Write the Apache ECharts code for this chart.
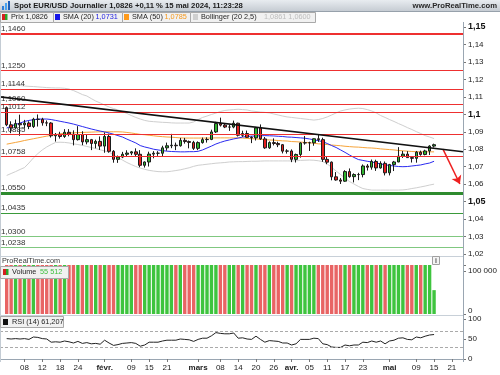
<!DOCTYPE html>
<html><head><meta charset="utf-8">
<script src="https://cdn.jsdelivr.net/npm/echarts@6/dist/echarts.min.js"></script>
<style>html,body{margin:0;padding:0;background:#fff}#c{width:500px;height:375px}</style>
</head><body><div id="c"></div>
<script>
// ---- categories: trading days Jan 1 .. May 23, 2024 ----
const dates = [
'01-01','01-02','01-03','01-04','01-05','01-08','01-09','01-10','01-11','01-12','01-15','01-16','01-17','01-18','01-19','01-22','01-23','01-24','01-25','01-26','01-29','01-30','01-31',
'02-01','02-02','02-05','02-06','02-07','02-08','02-09','02-12','02-13','02-14','02-15','02-16','02-19','02-20','02-21','02-22','02-23','02-26','02-27','02-28','02-29',
'03-01','03-04','03-05','03-06','03-07','03-08','03-11','03-12','03-13','03-14','03-15','03-18','03-19','03-20','03-21','03-22','03-25','03-26','03-27','03-28','03-29',
'04-01','04-02','04-03','04-04','04-05','04-08','04-09','04-10','04-11','04-12','04-15','04-16','04-17','04-18','04-19','04-22','04-23','04-24','04-25','04-26','04-29','04-30',
'05-01','05-02','05-03','05-06','05-07','05-08','05-09','05-10','05-13','05-14','05-15','05-16','05-17','05-20','05-21','05-22','05-23'];
const firstBar = 1; // Jan 2

// ---- daily candles [open, close, low, high], Jan 2 .. May 15 ----
const candles = [
[1.1038,1.0940,1.0932,1.1045],[1.0940,1.0922,1.0892,1.0960],[1.0922,1.0947,1.0916,1.0970],[1.0947,1.0940,1.0877,1.0998],
[1.0940,1.0950,1.0918,1.0968],[1.0950,1.0930,1.0915,1.0960],[1.0930,1.0972,1.0922,1.0980],[1.0972,1.0971,1.0930,1.0999],[1.0971,1.0951,1.0935,1.0980],
[1.0951,1.0950,1.0932,1.0965],[1.0950,1.0877,1.0867,1.0955],[1.0877,1.0885,1.0844,1.0893],[1.0885,1.0873,1.0861,1.0900],[1.0873,1.0897,1.0865,1.0915],
[1.0897,1.0886,1.0874,1.0915],[1.0886,1.0855,1.0822,1.0908],[1.0855,1.0884,1.0850,1.0932],[1.0884,1.0842,1.0823,1.0903],[1.0842,1.0855,1.0828,1.0886],
[1.0855,1.0833,1.0795,1.0859],[1.0833,1.0845,1.0805,1.0855],[1.0845,1.0818,1.0796,1.0873],[1.0818,1.0873,1.0780,1.0896],[1.0873,1.0788,1.0780,1.0889],
[1.0788,1.0742,1.0723,1.0795],[1.0742,1.0755,1.0722,1.0764],[1.0755,1.0771,1.0749,1.0785],[1.0771,1.0778,1.0760,1.0794],[1.0778,1.0785,1.0766,1.0790],
[1.0785,1.0771,1.0760,1.0805],[1.0771,1.0708,1.0697,1.0795],[1.0708,1.0727,1.0695,1.0730],[1.0727,1.0772,1.0701,1.0786],[1.0772,1.0777,1.0748,1.0789],
[1.0777,1.0777,1.0762,1.0789],[1.0777,1.0808,1.0761,1.0820],[1.0808,1.0820,1.0792,1.0838],[1.0820,1.0823,1.0806,1.0888],[1.0823,1.0820,1.0795,1.0838],
[1.0820,1.0851,1.0815,1.0865],[1.0851,1.0844,1.0832,1.0865],[1.0844,1.0839,1.0805,1.0850],[1.0839,1.0805,1.0796,1.0848],[1.0805,1.0838,1.0795,1.0845],
[1.0838,1.0855,1.0832,1.0867],[1.0855,1.0856,1.0838,1.0868],[1.0856,1.0899,1.0852,1.0912],[1.0899,1.0947,1.0893,1.0957],[1.0947,1.0938,1.0930,1.0981],
[1.0938,1.0927,1.0921,1.0945],[1.0927,1.0927,1.0905,1.0940],[1.0927,1.0949,1.0920,1.0964],[1.0949,1.0880,1.0873,1.0952],[1.0880,1.0890,1.0871,1.0906],
[1.0890,1.0868,1.0865,1.0907],[1.0868,1.0865,1.0835,1.0874],[1.0865,1.0922,1.0850,1.0928],[1.0922,1.0859,1.0853,1.0942],[1.0859,1.0808,1.0802,1.0870],
[1.0808,1.0838,1.0802,1.0845],[1.0838,1.0833,1.0822,1.0862],[1.0833,1.0826,1.0812,1.0843],[1.0826,1.0789,1.0776,1.0830],[1.0789,1.0790,1.0775,1.0800],
[1.0790,1.0742,1.0726,1.0799],[1.0742,1.0770,1.0724,1.0775],[1.0770,1.0836,1.0752,1.0840],[1.0836,1.0837,1.0826,1.0876],[1.0837,1.0837,1.0790,1.0843],
[1.0837,1.0860,1.0820,1.0862],[1.0860,1.0855,1.0842,1.0885],[1.0855,1.0742,1.0728,1.0866],[1.0742,1.0726,1.0714,1.0757],[1.0726,1.0642,1.0622,1.0730],
[1.0642,1.0624,1.0620,1.0669],[1.0624,1.0617,1.0601,1.0635],[1.0617,1.0672,1.0613,1.0680],[1.0672,1.0643,1.0637,1.0690],[1.0643,1.0655,1.0610,1.0662],
[1.0655,1.0655,1.0623,1.0665],[1.0655,1.0704,1.0639,1.0713],[1.0704,1.0697,1.0678,1.0715],[1.0697,1.0730,1.0683,1.0741],[1.0730,1.0693,1.0676,1.0740],
[1.0693,1.0719,1.0689,1.0731],[1.0719,1.0665,1.0650,1.0730],[1.0665,1.0712,1.0650,1.0716],[1.0712,1.0727,1.0675,1.0733],[1.0727,1.0760,1.0726,1.0812],
[1.0760,1.0772,1.0750,1.0790],[1.0772,1.0752,1.0750,1.0789],[1.0752,1.0748,1.0724,1.0760],[1.0748,1.0783,1.0723,1.0790],[1.0783,1.0770,1.0763,1.0792],
[1.0770,1.0790,1.0765,1.0797],[1.0790,1.0818,1.0767,1.0823],[1.0818,1.0826,1.0810,1.0832]];

const sma20 = [
1.0921,1.0933,1.0942,1.0950,1.0959,1.0965,1.0969,1.0972,1.0973,1.0973,
1.0970,1.0965,1.0960,1.0955,1.0950,1.0944,1.0937,1.0930,1.0923,1.0916,
1.0910,1.0904,1.0899,1.0893,1.0886,1.0878,1.0870,1.0858,1.0847,1.0836,
1.0821,1.0813,1.0807,1.0800,1.0796,1.0792,1.0789,1.0787,1.0786,1.0785,
1.0785,1.0786,1.0786,1.0788,1.0796,1.0807,1.0818,1.0830,1.0839,1.0847,
1.0853,1.0859,1.0864,1.0870,1.0873,1.0875,1.0876,1.0877,1.0878,1.0877,
1.0876,1.0874,1.0873,1.0870,1.0869,1.0867,1.0865,1.0863,1.0859,1.0854,
1.0849,1.0843,1.0833,1.0821,1.0810,1.0796,1.0782,1.0767,1.0753,1.0741,
1.0736,1.0731,1.0727,1.0721,1.0716,1.0711,1.0707,1.0704,1.0701,1.0700,
1.0701,1.0704,1.0707,1.0710,1.0716,1.0721,1.0731];

const sma50 = [
1.0829,1.0834,1.0839,1.0844,1.0850,1.0855,1.0860,1.0865,1.0870,1.0875,
1.0879,1.0884,1.0888,1.0891,1.0893,1.0894,1.0895,1.0896,1.0897,1.0898,
1.0899,1.0900,1.0900,1.0900,1.0900,1.0900,1.0899,1.0896,1.0893,1.0889,
1.0885,1.0883,1.0880,1.0877,1.0874,1.0872,1.0870,1.0869,1.0867,1.0865,
1.0864,1.0864,1.0864,1.0864,1.0864,1.0864,1.0864,1.0865,1.0865,1.0865,
1.0865,1.0865,1.0865,1.0864,1.0862,1.0860,1.0859,1.0857,1.0855,1.0853,
1.0852,1.0850,1.0848,1.0847,1.0844,1.0843,1.0841,1.0839,1.0837,1.0834,
1.0831,1.0829,1.0827,1.0824,1.0822,1.0820,1.0817,1.0815,1.0813,1.0812,
1.0810,1.0808,1.0807,1.0805,1.0802,1.0800,1.0798,1.0796,1.0793,1.0791,
1.0789,1.0787,1.0786,1.0785,1.0785,1.0785,1.0785];

const bbUpper = [
1.1174,1.1171,1.1168,1.1165,1.1162,1.1160,1.1159,1.1157,1.1155,1.1153,
1.1152,1.1151,1.1151,1.1149,1.1145,1.1136,1.1125,1.1113,1.1105,1.1090,
1.1076,1.1065,1.1053,1.1042,1.1033,1.1025,1.1016,1.1005,1.0993,1.0982,
1.0973,1.0965,1.0960,1.0958,1.0956,1.0954,1.0953,1.0951,1.0950,1.0950,
1.0950,1.0950,1.0956,1.0970,1.0982,1.0990,1.0999,1.1007,1.1016,1.1022,
1.1025,1.1027,1.1029,1.1027,1.1025,1.1019,1.1016,1.1013,1.1011,1.1008,
1.1002,1.0996,1.0990,1.0985,1.0982,1.0979,1.0976,1.0973,1.0970,1.0967,
1.0970,1.0976,1.0985,1.0996,1.1008,1.1019,1.1025,1.1030,1.1033,1.1035,
1.1033,1.1027,1.1019,1.1008,1.0993,1.0982,1.0970,1.0959,1.0947,1.0936,
1.0924,1.0913,1.0901,1.0890,1.0878,1.0870,1.0861];

const bbLower = [
1.0650,1.0661,1.0672,1.0684,1.0695,1.0721,1.0750,1.0775,1.0796,1.0813,
1.0827,1.0839,1.0840,1.0839,1.0836,1.0831,1.0827,1.0822,1.0816,1.0810,
1.0804,1.0797,1.0790,1.0784,1.0767,1.0753,1.0738,1.0724,1.0712,1.0701,
1.0692,1.0685,1.0679,1.0675,1.0672,1.0671,1.0671,1.0674,1.0678,1.0682,
1.0688,1.0694,1.0702,1.0708,1.0711,1.0714,1.0717,1.0720,1.0722,1.0724,
1.0727,1.0728,1.0729,1.0729,1.0730,1.0731,1.0731,1.0732,1.0733,1.0733,
1.0733,1.0733,1.0733,1.0733,1.0733,1.0734,1.0736,1.0737,1.0738,1.0737,
1.0734,1.0729,1.0716,1.0696,1.0675,1.0655,1.0635,1.0615,1.0601,1.0587,
1.0575,1.0570,1.0566,1.0566,1.0566,1.0566,1.0566,1.0566,1.0566,1.0567,
1.0570,1.0575,1.0579,1.0584,1.0589,1.0595,1.0600];

const volume = [
128000,131000,126000,134000,129000,127000,133000,130000,128000,125000,
136000,132000,129000,131000,127000,134000,130000,128000,133000,126000,
129000,131000,135000,138000,132000,128000,127000,130000,126000,129000,
133000,131000,132000,127000,120000,128000,130000,134000,129000,127000,
126000,128000,131000,129000,127000,128000,132000,135000,131000,128000,
127000,130000,129000,134000,128000,127000,129000,133000,131000,130000,
127000,126000,129000,131000,125000,130000,132000,131000,133000,128000,
130000,137000,132000,136000,131000,129000,130000,128000,127000,124000,
128000,131000,129000,130000,127000,129000,131000,128000,132000,129000,
128000,127000,130000,126000,128000,131000,55512];

const rsi = [
51,50,51,50,51,49,55,54,51,50,
42,43,42,45,43,40,44,39,41,38,
39,37,47,40,34,36,39,40,41,39,
32,35,42,42,42,45,47,47,47,50,
49,48,44,49,52,52,58,66,64,63,
63,65,52,53,50,49,57,49,42,46,
45,44,40,40,35,38,49,49,49,52,
51,38,36,30,29,29,35,33,35,35,
42,41,45,42,45,38,45,47,52,53,
49,48,55,53,57,60,61.2];

const resistLevels = [1.1460,1.1250,1.1144,1.1060,1.1012,1.0885,1.0758];
const supportLevels = [1.0550,1.0435,1.0300,1.0238];
const trendLine = [[-0.5,1.1100],[103.5,1.0786]];
const arrowLine = [[99.0,1.0801],[102.8,1.0601]];
const lastPrice = 1.0826;
const rsiLevels = [70,30];
const xTickIdx = [5,9,13,17,23,29,33,37,44,49,53,57,61,65,69,73,77,81,87,93,97,101];
const xTickText = ['08','12','18','24','févr.','09','15','21','mars','08','14','20','26','avr.','05','11','17','23','mai','09','15','21'];
const monthTicks = ['févr.','mars','avr.','mai'];

// ---- chart ----
const F = '"Liberation Sans", Arial, sans-serif';
const chart = echarts.init(document.getElementById('c'));
const fmt = v => String(+v.toFixed(4)).replace('.', ',');
const idx = (arr) => arr.map((v, i) => [i + firstBar, v]);
const GL = -3, GR = 37;
const tickSet = new Set(xTickIdx);

function levelLine(v, color, width) {
  return {yAxis: v, lineStyle: {color: color, width: width, type: 'solid'},
    label: {show: true, position: 'insideStartTop', formatter: fmt(v).padEnd(6, '0'),
      color: '#333', fontSize: 8, fontFamily: F, distance: [1, 1]}};
}
const levelData = resistLevels.map((v, i) => levelLine(v, '#ee3030', i === 0 ? 2 : 1))
  .concat(supportLevels.map((v, i) => levelLine(v, i === 0 ? '#2e8b2e' : (i === 1 ? '#3a9a3a' : '#80c880'), i === 0 ? 3 : 1)));

const G = [];
// header
G.push({type:'rect', shape:{x:0,y:0,width:500,height:11}, style:{fill:new echarts.graphic.LinearGradient(0,0,0,1,[{offset:0,color:'#e8ecf0'},{offset:1,color:'#c6ccd3'}])}, z:100});
G.push({type:'line', shape:{x1:0,y1:11.5,x2:500,y2:11.5}, style:{stroke:'#97a1ab',lineWidth:1}, z:101});
G.push({type:'rect', shape:{x:0,y:12,width:500,height:10}, style:{fill:'#ffffff'}, z:100});
// icon
G.push({type:'rect', shape:{x:2,y:6,width:2,height:4}, style:{fill:'#2f7fd8'}, z:102});
G.push({type:'rect', shape:{x:5,y:3,width:2,height:7}, style:{fill:'#49a3f0'}, z:102});
G.push({type:'rect', shape:{x:8,y:1,width:2,height:9}, style:{fill:'#1c5fb8'}, z:102});
G.push({type:'text', x:14, y:5.8, style:{text:'Spot EUR/USD Journalier 1,0826 +0,11 % 15 mai 2024, 11:23:28', fill:'#1a1a1a', font:'bold 7.7px '+F, textVerticalAlign:'middle'}, z:102});
G.push({type:'text', x:497, y:5.8, style:{text:'www.ProRealTime.com', fill:'#2a2a2a', font:'bold 7.7px '+F, textAlign:'right', textVerticalAlign:'middle'}, z:102});
// legend boxes
const LF = '7.3px ' + F;
function box(x, y, w, h) { G.push({type:'rect', shape:{x:x+0.5,y:y+0.5,width:w,height:h}, style:{fill:'#f1f1f1',stroke:'#a9a9a9',lineWidth:1}, z:102}); }
function txt(x, y, s, col) { G.push({type:'text', x:x, y:y, style:{text:s, fill:col, font:LF, textVerticalAlign:'middle'}, z:103}); }
function sq(x, y, col) { G.push({type:'rect', shape:{x:x,y:y,width:5,height:6}, style:{fill:col}, z:103}); }
box(0,12,53,10); box(53,12,69,10); box(122,12,68,10); box(190,12,125,10);
sq(2,14,'#d42020'); G.push({type:'rect', shape:{x:5,y:14,width:2.5,height:6}, style:{fill:'#2aa52a'}, z:104});
txt(11,17.3,'Prix 1,0826','#1e1e1e');
sq(55,14,'#1515e8'); txt(63,17.3,'SMA (20)','#1e1e1e'); txt(95.5,17.3,'1,0731','#2424e0');
sq(124,14,'#ff9a1a'); txt(132,17.3,'SMA (50)','#1e1e1e'); txt(164.5,17.3,'1,0785','#f59a20');
sq(193,14,'#cfcfcf'); txt(201,17.3,'Bollinger (20 2,5)','#1e1e1e'); txt(264,17.3,'1,0861 1,0600','#bdbdbd');
// frame lines
G.push({type:'line', shape:{x1:463.5,y1:22,x2:463.5,y2:362}, style:{stroke:'#9aa6b2',lineWidth:1}, z:90});
G.push({type:'line', shape:{x1:0.5,y1:22,x2:0.5,y2:362}, style:{stroke:'#c4ccd4',lineWidth:1}, z:90});
G.push({type:'line', shape:{x1:0,y1:256.5,x2:463,y2:256.5}, style:{stroke:'#c8d0d8',lineWidth:1}, z:90});
G.push({type:'line', shape:{x1:0,y1:315.5,x2:463,y2:315.5}, style:{stroke:'#c8d0d8',lineWidth:1}, z:90});
G.push({type:'rect', shape:{x:1,y:257,width:462,height:8}, style:{fill:'#ffffff'}, z:95});
txt(2,261,'ProRealTime.com','#3a3a3a');
G.push({type:'rect', shape:{x:432.5,y:256.5,width:7,height:8}, style:{fill:'#f4f4f4',stroke:'#a0a0a0',lineWidth:1}, z:102});
G.push({type:'text', x:436, y:260.7, style:{text:'i', fill:'#555', font:'bold 7px '+F, textAlign:'center', textVerticalAlign:'middle'}, z:103});
// volume legend
box(0,266,68,12);
sq(3,269,'#d42020'); G.push({type:'rect', shape:{x:6,y:269,width:2.5,height:6}, style:{fill:'#2aa52a'}, z:104});
txt(12,272.3,'Volume','#1e1e1e'); txt(40,272.3,'55 512','#3fbf3f');
// rsi legend
box(0,316,63,11);
sq(3,319,'#111111'); txt(12,321.8,'RSI (14) 61,207','#1e1e1e');

const option = {
  animation: false,
  backgroundColor: '#ffffff',
  textStyle: {fontFamily: F},
  grid: [
    {left: GL, right: GR, top: 9.54, height: 244.46},
    {left: GL, right: GR, top: 265, height: 49},
    {left: GL, right: GR, top: 319, height: 40}
  ],
  xAxis: [
    {type:'category', gridIndex:0, data:dates, boundaryGap:true, axisLine:{show:false}, axisTick:{show:false}, axisLabel:{show:false}},
    {type:'category', gridIndex:1, data:dates, boundaryGap:true, axisLine:{show:false}, axisTick:{show:false}, axisLabel:{show:false}},
    {type:'category', gridIndex:2, data:dates, boundaryGap:true, offset:3,
      axisLine:{show:true, lineStyle:{color:'#9aa6b2', width:1}},
      axisTick:{show:true, alignWithLabel:true, length:3, interval:(i)=>tickSet.has(i), lineStyle:{color:'#777'}},
      axisLabel:{show:true, interval:(i)=>tickSet.has(i), margin:2, fontSize:8, color:'#222', fontFamily:F,
        formatter:(v, i)=>{const k = xTickIdx.indexOf(i); if (k < 0) return ''; const t = xTickText[k]; return monthTicks.includes(t) ? '{b|'+t+'}' : t;},
        rich:{b:{fontWeight:'bold', fontSize:8, color:'#222', fontFamily:F}}}},
    {type:'value', gridIndex:0, min:-0.5, max:103.5, show:false, axisLine:{onZero:false}}
  ],
  yAxis: [
    {type:'value', gridIndex:0, position:'right', min:1.02, max:1.16, interval:0.01, scale:true,
      axisLine:{show:false, onZero:false}, splitLine:{show:false},
      axisTick:{show:true, length:3, lineStyle:{color:'#777'}},
      axisLabel:{margin:5, fontSize:8, color:'#222', fontFamily:F,
        formatter:(v)=>{ if (v > 1.155) return ''; const s = fmt(+v.toFixed(2)); return (Math.round(v*100) % 5 === 0) ? '{b|'+s+'}' : s; },
        rich:{b:{fontWeight:'bold', fontSize:9, color:'#111', fontFamily:F}}}},
    {type:'value', gridIndex:1, position:'right', min:0, max:114000, interval:100000,
      axisLine:{show:false, onZero:false}, splitLine:{show:false}, axisTick:{show:true, length:3, lineStyle:{color:'#777'}},
      axisLabel:{margin:5, fontSize:8, color:'#222', fontFamily:F, formatter:(v)=> v === 0 ? '{z|0}' : (v === 100000 ? '100 000' : ''),
        rich:{z:{fontSize:8, color:'#222', fontFamily:F, padding:[0,0,7,0]}}}},
    {type:'value', gridIndex:2, position:'right', min:0, max:100, interval:50,
      axisLine:{show:false, onZero:false}, splitLine:{show:false}, axisTick:{show:true, length:3, lineStyle:{color:'#777'}},
      axisLabel:{margin:5, fontSize:8, color:'#222', fontFamily:F}}
  ],
  graphic: G,
  series: [
    {name:'levels', type:'line', xAxisIndex:0, yAxisIndex:0, data:[], z:1, silent:true,
      markLine:{silent:true, symbol:'none', animation:false, precision:4, data: levelData}},
    {name:'bbU', type:'line', xAxisIndex:0, yAxisIndex:0, data:idx(bbUpper), symbol:'none', z:2, silent:true,
      lineStyle:{color:'#cfcfcf', width:1}},
    {name:'bbL', type:'line', xAxisIndex:0, yAxisIndex:0, data:idx(bbLower), symbol:'none', z:2, silent:true,
      lineStyle:{color:'#cfcfcf', width:1}},
    {name:'sma50', type:'line', xAxisIndex:0, yAxisIndex:0, data:idx(sma50), symbol:'none', z:3, silent:true,
      lineStyle:{color:'#f7a43a', width:1}},
    {name:'sma20', type:'line', xAxisIndex:0, yAxisIndex:0, data:idx(sma20), symbol:'none', z:3, silent:true,
      lineStyle:{color:'#2a2af0', width:1}},
    {name:'prix', type:'candlestick', xAxisIndex:0, yAxisIndex:0, z:4, barWidth:3,
      data: candles.map((c, i) => [i + firstBar, c[0], c[1], c[2], c[3]]),
      encode:{x:0, y:[1,2,3,4]},
      itemStyle:{color:'#2fb52f', color0:'#e42020', borderColor:'#1b1b1b', borderColor0:'#1b1b1b', borderWidth:1}},
    {name:'trend', type:'line', xAxisIndex:3, yAxisIndex:0, data:trendLine, symbol:'none', z:5, silent:true,
      lineStyle:{color:'#111111', width:1.6},
      markLine:{silent:true, symbol:['none','arrow'], symbolSize:8, animation:false, precision:4,
        data:[
          [{coord:arrowLine[0], lineStyle:{color:'#ee2020', width:1.5, type:'solid'}, label:{show:false}}, {coord:arrowLine[1]}],
          {yAxis:lastPrice, symbol:'none', lineStyle:{opacity:0}, label:{show:true, position:'end', distance:2, formatter:fmt(lastPrice),
            backgroundColor:'#ffd21c', color:'#000', fontWeight:'bold', fontSize:9, fontFamily:F, padding:[2,3,1,3]}}
        ]}},
    {name:'volume', type:'bar', xAxisIndex:1, yAxisIndex:1, barWidth:3.4, z:2,
      data: volume.map((v, i) => { const c = candles[i]; return {value:[i + firstBar, v], itemStyle:{color: c[1] >= c[0] ? '#3ec43e' : '#e86464'}}; }),
      markLine:{silent:true, symbol:'none', animation:false, precision:0, data:[
        {yAxis:55512, lineStyle:{opacity:0}, label:{show:true, position:'end', distance:2, formatter:'55 512',
          color:'#3fbf3f', backgroundColor:'#ffffff', borderColor:'#a8d8a8', borderWidth:1, fontSize:8, fontFamily:F, padding:[1,2,0,2]}}]}},
    {name:'rsi', type:'line', xAxisIndex:2, yAxisIndex:2, data:idx(rsi), symbol:'none', z:3,
      lineStyle:{color:'#222', width:1},
      markLine:{silent:true, symbol:'none', animation:false, precision:3, data:
        rsiLevels.map(v => ({yAxis:v, lineStyle:{color:'#aaaaaa', width:1, type:[3,2]}, label:{show:false}})).concat([
        {yAxis:61.207, lineStyle:{opacity:0}, label:{show:true, position:'end', distance:2, formatter:'61,207',
          color:'#222', backgroundColor:'#ffffff', borderColor:'#b0b0b0', borderWidth:1, fontSize:8, fontFamily:F, padding:[1,2,0,2]}}])}}
  ]
};
chart.setOption(option);
</script>
</body></html>
